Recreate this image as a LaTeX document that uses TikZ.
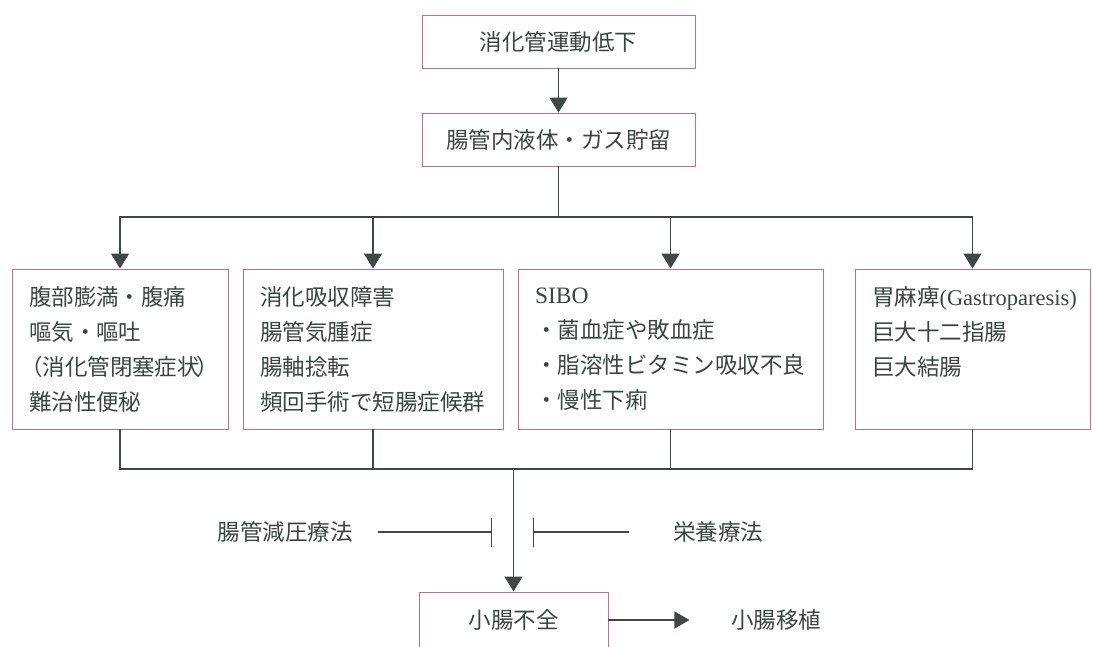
\documentclass[tikz,border=0pt]{standalone}
\usepackage{fontspec}
\setmainfont{Noto Sans CJK JP}
\newfontfamily\lat{Liberation Serif}
\usetikzlibrary{arrows.meta,calc}
\definecolor{boxc}{RGB}{196,110,150}
\definecolor{linec}{RGB}{62,72,68}
\definecolor{txtc}{RGB}{58,68,64}
\begin{document}
\begin{tikzpicture}[x=1pt,y=-1pt,
  box/.style={draw=boxc, line width=0.9pt, text=txtc, font=\fontsize{22.5}{35}\selectfont, inner sep=0pt},
  lbl/.style={text=txtc, font=\fontsize{22.5}{35}\selectfont},
  ln/.style={draw=linec, line width=1.3pt},
  arr/.style={ln, -{Triangle[width=18pt,length=15pt]}},
  barend/.style={ln, -{Bar[width=29pt]}},
  barstart/.style={ln, {Bar[width=29pt]}-}
]
\useasboundingbox (0,0) rectangle (1093,646);
\node[box, minimum width=273pt, minimum height=53pt] (n1) at (558.5,41.5) {消化管運動低下};
\node[box, minimum width=273pt, minimum height=53pt] (n2) at (558.5,139.5) {腸管内液体・ガス貯留};
\node[box, align=left, text width=182pt, minimum width=216pt, minimum height=160pt] (bA) at (120,349)
  {腹部膨満・腹痛\\嘔気・嘔吐\\\hspace*{-0.4em}（消化管閉塞症状\hspace*{-0.15em}）\\難治性便秘};
\node[box, align=left, text width=226pt, minimum width=260pt, minimum height=160pt] (bB) at (373,349)
  {消化吸収障害\\腸管気腫症\\腸軸捻転\\頻回手術で短腸症候群};
\node[box, align=left, text width=271pt, minimum width=305pt, minimum height=160pt] (bC) at (670.5,349)
  {{\lat\fontsize{23.5}{35}\selectfont SIBO}\\・菌血症や敗血症\\・脂溶性ビタミン吸収不良\\・慢性下痢};
\node[box, align=left, text width=201pt, minimum width=235pt, minimum height=160pt] (bD) at (972.5,349)
  {胃麻痺{\lat (Gastroparesis)}\\巨大十二指腸\\巨大結腸\\\mbox{}};
\node[lbl] (t1) at (285,532) {腸管減圧療法};
\node[lbl] (t2) at (718,532) {栄養療法};
\node[box, minimum width=189pt, minimum height=56pt] (bE) at (513.5,620) {小腸不全};
\node[lbl] (t3) at (776,620) {小腸移植};

\draw[arr] (n1) -- (n2);
\coordinate (j1) at (558.5,217);
\draw[ln] (n2) -- (j1);
\draw[arr] (j1) -| (bA.north);
\draw[arr] (j1) -| (bB.north);
\draw[arr] (j1) -| (bC.north);
\draw[arr] (j1) -| (bD.north);
\coordinate (j2) at (513.5,469);
\draw[ln] (bA.south) |- (j2);
\draw[ln] (bD.south) |- (j2);
\draw[ln] (bB.south) -- (bB.south |- j2);
\draw[ln] (bC.south) -- (bC.south |- j2);
\draw[arr] (j2) -- (bE.north);
\coordinate (bl) at (492,532);
\coordinate (br) at (533,532);
\draw[barend] ([xshift=22pt]t1.east) -- (bl);
\draw[barstart] (br) -- ([xshift=-40pt]t2.west);
\draw[ln, -{Triangle[width=17pt,length=15pt]}] (bE.east) -- ([xshift=-38pt]t3.west);
\end{tikzpicture}
\end{document}
